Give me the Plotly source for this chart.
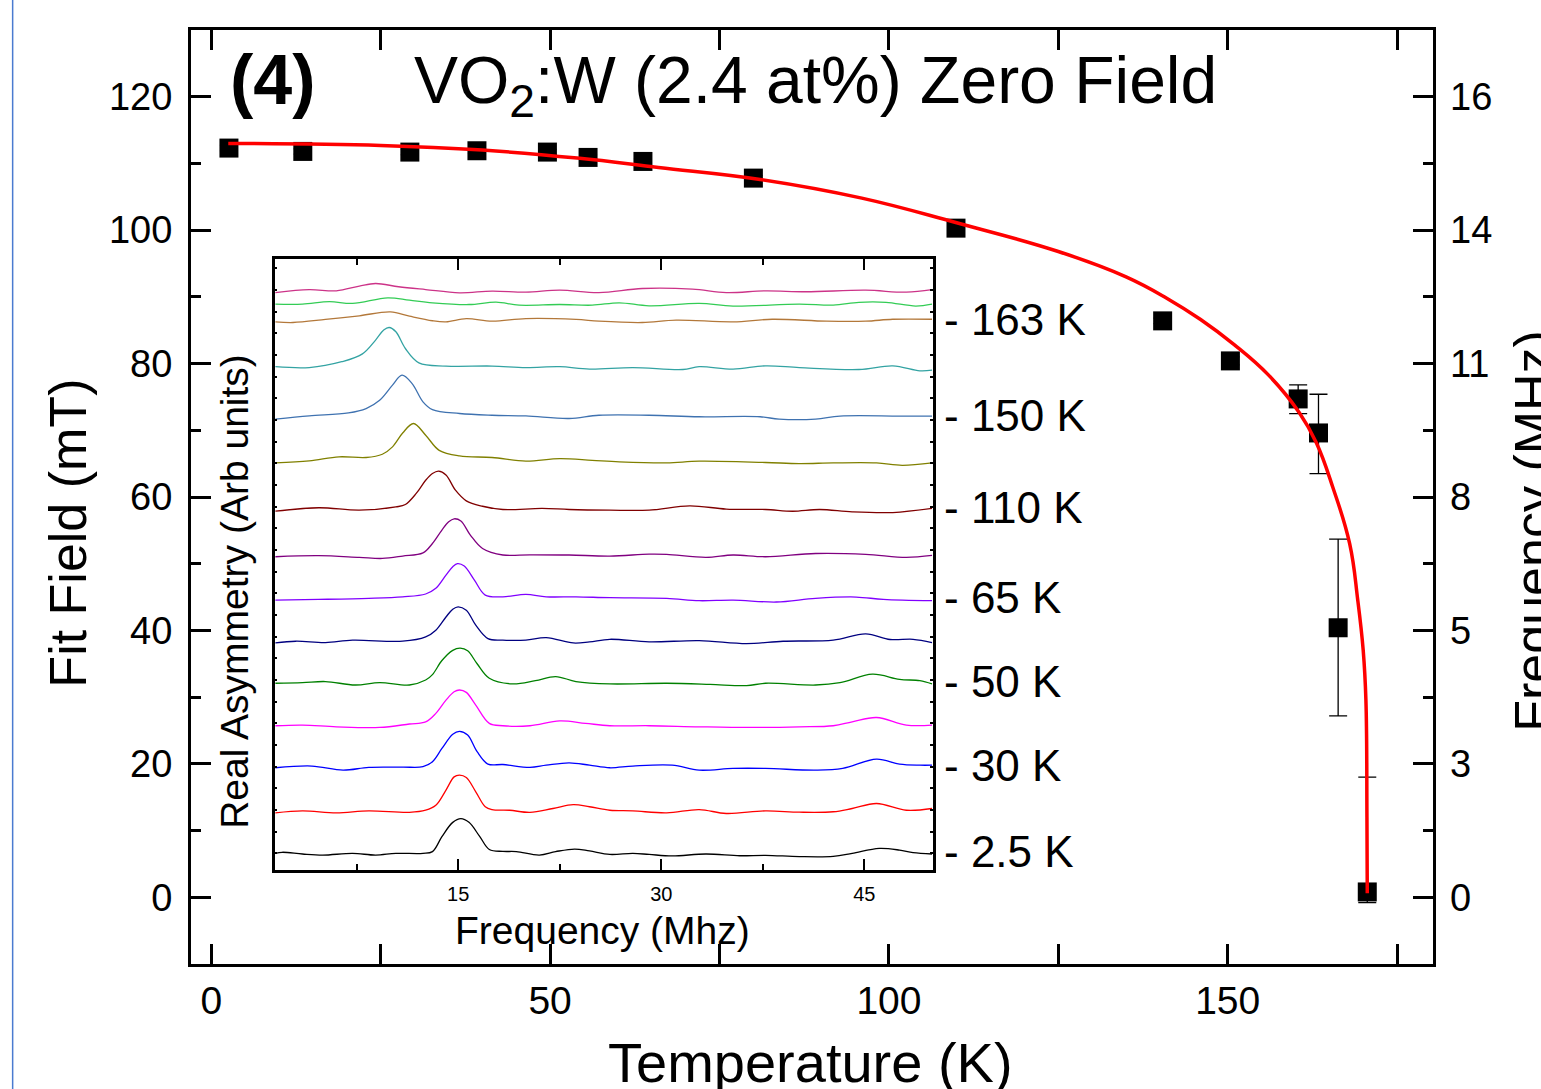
import plotly.graph_objects as go

# ---------------- main data ----------------
temps = [2.6, 13.5, 29.3, 39.2, 49.6, 55.6, 63.7, 80.0, 109.9, 140.4, 150.4, 160.4, 163.4, 166.3, 170.6]
field = [112.3, 111.8, 111.7, 111.9, 111.7, 110.9, 110.3, 107.8, 100.3, 86.4, 80.4, 74.7, 69.6, 40.4, 0.8]
err_plus = [0.4, 0.4, 0.4, 0.4, 0.4, 0.4, 0.4, 0.4, 0.4, 0.4, 0.6, 2.1, 5.8, 13.3, 17.2]
err_minus = [0.4, 0.4, 0.4, 0.4, 0.4, 0.4, 0.4, 0.4, 0.4, 0.4, 0.6, 2.2, 6.1, 13.2, 1.6]

fit_T = [2.5, 25, 40, 54, 66, 81, 96, 110, 125, 135, 141, 146, 151, 156, 160.6, 163.1,
         165.5, 168.0, 169.2, 170.0, 170.4, 170.55, 170.6]
fit_B = [113.0, 112.7, 112.0, 110.8, 109.4, 107.6, 104.8, 101.1, 96.8, 93.0, 89.8, 86.6,
         82.8, 78.3, 72.6, 68.1, 61.5, 53.0, 44.5, 37.0, 29.5, 12.0, 0.6]

left_ticks = [0, 20, 40, 60, 80, 100, 120]
right_tick_text = ["0", "3", "5", "8", "11", "14", "16"]

# ---------------- inset spectra (relative to each baseline) ----------------
black_f = [1.5, 2.0, 3.5, 5.0, 7.2, 8.9, 10.4, 12.4, 13.1, 13.8, 14.6, 15.2, 15.8, 16.6, 17.3, 18.3, 19.3, 21.0,
           22.2, 23.6, 24.7, 26.2, 27.9, 29.1, 30.8, 33.3, 35.8, 37.7, 40.2, 42.7, 44.1, 46.1, 47.6, 48.6, 50.0]
black_v = [0, 0.05, -0.03, -0.08, 0, -0.08, 0, 0, 0.08, 0.77, 1.43, 1.6, 1.43, 0.77, 0.18, 0.09, 0.08, -0.08,
           0.08, 0.2, 0.11, -0.05, 0, -0.05, -0.12, -0.03, -0.11, -0.09, -0.15, -0.14, 0, 0.23, 0.15, 0.03, -0.03]
red_f = [1.5, 3.5, 6.0, 8.4, 11.4, 12.6, 13.35, 14.1, 14.7, 15.1, 15.6, 16.3, 17.0, 17.5, 18.8, 20.3, 22.0, 23.5,
         24.7, 26.2, 27.9, 30.4, 32.8, 34.8, 37.7, 40.2, 42.7, 44.1, 45.9, 48.1, 50.0]
red_v = [0, 0.09, 0, 0.09, 0.02, 0.12, 0.35, 1.05, 1.66, 1.74, 1.63, 0.97, 0.28, 0.15, 0.12, 0.02, 0.2, 0.38,
         0.28, 0.12, 0.09, 0, 0.15, -0.03, 0.09, 0.03, 0.05, 0.2, 0.43, 0.12, 0.2]
blue_f = [1.5, 4.2, 6.5, 8.4, 10.9, 12.4, 13.1, 13.8, 14.6, 15.1, 15.7, 16.4, 17.2, 18.3, 20.3, 21.5, 23.2, 24.7,
          26.2, 27.9, 30.8, 32.8, 35.3, 37.7, 41.4, 43.4, 45.9, 47.6, 49.1, 50.0]
blue_v = [0, 0.08, -0.11, 0.02, 0.03, 0.05, 0.28, 0.89, 1.55, 1.68, 1.51, 0.74, 0.17, 0.15, 0.02, 0.12, 0.23, 0.12,
          0.0, 0.08, 0.12, -0.11, -0.03, -0.03, -0.11, -0.03, 0.4, 0.17, 0.12, 0.12]
magenta_f = [1.5, 3.5, 6.0, 9.2, 11.4, 12.6, 13.35, 14.1, 14.7, 15.1, 15.6, 16.3, 17.3, 18.3, 20.3, 22.5, 24.4,
             26.2, 29.1, 32.8, 36.5, 40.2, 42.7, 44.1, 45.9, 48.1, 50.0]
magenta_v = [0, 0.03, -0.05, -0.08, 0.08, 0.18, 0.57, 1.18, 1.57, 1.65, 1.54, 0.95, 0.11, 0, 0, 0.22, 0.11,
             0, 0, -0.05, -0.08, -0.05, 0, 0.18, 0.38, 0.03, 0.03]
green_f = [1.5, 3.5, 5.2, 7.4, 9.2, 11.4, 12.6, 13.1, 13.8, 14.6, 15.15, 15.7, 16.4, 17.3, 19.0, 20.7, 22.2, 23.7,
           26.2, 30.4, 33.6, 36.3, 37.7, 41.4, 43.2, 45.6, 47.6, 49.1, 50.0]
green_v = [0, 0.03, 0.08, -0.08, 0.03, -0.08, 0.15, 0.4, 1.05, 1.52, 1.62, 1.5, 0.9, 0.23, -0.03, 0.12, 0.31, 0.08,
           -0.03, 0, -0.05, -0.11, 0, -0.08, 0.03, 0.42, 0.18, 0.12, -0.03]
navy_f = [1.5, 3.0, 5.2, 7.2, 10.9, 12.6, 13.35, 14.1, 14.6, 15.0, 15.6, 16.3, 17.2, 18.3, 20.0, 21.5, 23.5, 24.7,
          26.2, 29.1, 32.8, 36.3, 39.0, 42.7, 45.1, 46.9, 48.6, 50.0]
navy_v = [-0.05, 0.03, -0.03, 0.08, 0.03, 0.23, 0.54, 1.15, 1.51, 1.62, 1.46, 0.77, 0.15, 0.08, 0.08, 0.2, -0.05, 0,
          0.12, 0, 0.06, -0.08, 0.03, 0.08, 0.37, 0.11, 0.12, -0.03]
violet_f = [1.5, 4.7, 8.4, 10.9, 12.6, 13.35, 14.1, 14.6, 14.95, 15.45, 16.2, 17.0, 18.3, 20.0, 21.5, 23.7, 26.2,
            30.4, 32.8, 35.3, 38.5, 41.4, 44.4, 46.4, 50.0]
violet_v = [-0.03, 0, 0.05, 0.12, 0.25, 0.51, 1.12, 1.51, 1.65, 1.54, 0.89, 0.2, 0.12, 0.23, 0.12, 0.12, 0.08,
            0.05, -0.06, -0.03, -0.12, 0.05, 0.11, 0, -0.06]
purple_f = [1.5, 4.7, 7.7, 9.4, 10.9, 12.4, 13.1, 13.8, 14.3, 14.7, 15.2, 15.9, 16.8, 18.3, 20.3, 23.2, 26.2, 29.1,
            30.4, 33.3, 35.3, 37.7, 41.4, 45.1, 48.1, 50.0]
purple_v = [-0.03, 0.02, -0.06, -0.11, 0, 0.15, 0.58, 1.2, 1.58, 1.72, 1.62, 0.97, 0.35, 0.05, 0.06, 0.05, 0.0, 0.09,
            0.08, -0.06, 0.05, -0.03, 0.12, 0.08, -0.06, 0.03]
darkred_f = [1.5, 4.7, 7.7, 10.4, 11.1, 11.9, 12.6, 13.1, 13.55, 14.1, 14.8, 15.6, 16.8, 18.3, 21.2, 23.2, 26.2,
             29.1, 32.1, 34.8, 37.7, 39.7, 41.7, 44.1, 47.1, 50.0]
darkred_v = [-0.05, 0.11, 0, 0.15, 0.26, 0.77, 1.38, 1.69, 1.8, 1.62, 0.92, 0.43, 0.18, 0.03, 0.08, 0.03, 0,
             0, 0.2, 0.05, 0.03, -0.05, 0.03, -0.08, -0.11, 0.08]
olive_f = [1.5, 4.0, 6.2, 8.2, 9.4, 10.15, 10.9, 11.7, 12.6, 13.6, 15.1, 17.5, 20.0, 22.5, 24.9, 26.9, 30.4, 32.8,
           37.7, 40.2, 42.7, 45.9, 47.8, 50.0]
olive_v = [0, 0.09, 0.28, 0.25, 0.4, 0.74, 1.38, 1.82, 1.28, 0.58, 0.32, 0.25, 0.08, 0.2, 0.12, 0.05, 0, 0.08,
           0.02, -0.03, 0, 0, -0.11, 0]
steel_f = [1.5, 4.0, 6.9, 8.2, 9.2, 10.15, 10.85, 11.6, 12.4, 13.1, 15.1, 17.5, 20.0, 23.2, 25.4, 29.1, 32.8, 37.3,
           38.7, 41.4, 43.2, 47.6, 50.0]
steel_v = [-0.09, 0.06, 0.2, 0.4, 0.78, 1.48, 1.94, 1.55, 0.71, 0.35, 0.17, 0.09, 0.06, -0.06, 0.09, 0.09, 0.02, 0.02,
           -0.09, -0.09, 0.05, 0.05, 0.05]
teal_f = [1.5, 4.0, 6.4, 7.9, 8.9, 9.5, 9.9, 10.4, 11.1, 12.1, 14.1, 17.5, 20.0, 22.5, 24.7, 27.9, 31.6, 32.8, 35.3,
          37.7, 40.2, 44.6, 47.1, 49.1, 50.0]
teal_v = [0.02, -0.02, 0.25, 0.6, 1.25, 1.71, 1.83, 1.63, 0.86, 0.2, 0.05, 0.05, -0.02, 0.02, -0.09, -0.02, -0.11,
          0.02, -0.09, 0.06, -0.02, -0.11, 0.06, -0.17, -0.14]
brown_f = [1.5, 2.8, 5.2, 7.7, 10.0, 11.4, 13.1, 14.1, 15.6, 17.5, 20.0, 23.7, 25.4, 28.6, 31.1, 35.3, 38.2, 42.2,
           45.1, 47.1, 50.0]
brown_v = [-0.03, -0.06, 0.08, 0.25, 0.43, 0.23, 0.02, -0.03, 0.12, 0, 0.12, 0.08, 0, -0.06, 0.05, -0.03, 0.09, 0,
           0, 0.09, 0.09]
green2_f = [1.5, 3.5, 5.5, 7.2, 9.8, 11.4, 13.1, 15.8, 17.8, 19.5, 22.5, 24.9, 26.9, 29.1, 32.8, 35.3, 40.2, 42.7,
            44.6, 46.6, 48.8, 50.0]
green2_v = [0, 0, 0.11, 0.03, 0.29, 0.18, 0.06, -0.02, 0.09, -0.05, -0.02, -0.05, 0.06, -0.08, 0.03, -0.09, 0,
            -0.05, 0.08, 0.08, -0.09, 0]
pink_f = [1.5, 4.0, 6.0, 7.7, 8.9, 10.6, 12.6, 15.1, 17.5, 20.0, 22.5, 25.4, 28.6, 32.3, 34.8, 37.7, 40.7, 45.1,
          48.1, 50.0]
pink_v = [-0.02, 0.12, 0.06, 0.28, 0.4, 0.25, 0.12, -0.03, 0.05, 0, 0.09, -0.02, 0.17, 0.14, -0.02, 0.06, 0.02,
          0.09, 0, 0.12]

spec_freqs = [black_f, red_f, blue_f, magenta_f, green_f, navy_f, violet_f, purple_f, darkred_f,
              olive_f, steel_f, teal_f, brown_f, green2_f, pink_f]
spec_vals = [black_v, red_v, blue_v, magenta_v, green_v, navy_v, violet_v, purple_v, darkred_v,
             olive_v, steel_v, teal_v, brown_v, green2_v, pink_v]
spec_offsets = [0, 1.87, 3.95, 5.89, 7.85, 9.76, 11.72, 13.72, 15.84, 18.02, 20.13, 22.44, 24.56, 25.35, 25.9]
spec_colors = ["#000000", "#ff0000", "#0000ff", "#ff00ff", "#008000", "#000080", "#8000ff", "#800080",
               "#800000", "#808000", "#3f72b0", "#33a3a3", "#b3783a", "#33cc55", "#cc3388"]

temp_labels = ["- 163 K", "- 150 K", "- 110 K", "- 65 K", "- 50 K", "- 30 K", "- 2.5 K"]
temp_label_trace = [12, 10, 8, 6, 4, 2, 0]

inset_ticks = [15, 30, 45]
inset_minor = [7.5, 22.5, 37.5]

FONT = "Liberation Sans, Arial, sans-serif"

fig = go.Figure()

# data points
fig.add_trace(go.Scatter(
    x=temps, y=field, mode="markers",
    marker=dict(symbol="square", size=19, color="black"),
    error_y=dict(type="data", symmetric=False, array=err_plus, arrayminus=err_minus,
                 color="black", thickness=1.3, width=9),
    xaxis="x", yaxis="y", hoverinfo="skip"))
# fit curve
fig.add_trace(go.Scatter(
    x=fit_T, y=fit_B, mode="lines", line=dict(color="#ff0000", width=3.5, shape="spline", smoothing=1.2),
    xaxis="x", yaxis="y", hoverinfo="skip"))
# invisible trace for right axis
fig.add_trace(go.Scatter(x=temps, y=field, mode="markers", marker=dict(opacity=0),
                         xaxis="x", yaxis="y2", hoverinfo="skip"))

# inset spectra
for f, v, off, c in zip(spec_freqs, spec_vals, spec_offsets, spec_colors):
    fig.add_trace(go.Scatter(
        x=f, y=[off + a for a in v], mode="lines",
        line=dict(color=c, width=1.3, shape="spline", smoothing=1.0),
        xaxis="x2", yaxis="y3", hoverinfo="skip"))

axis_common = dict(showline=True, linecolor="black", showgrid=False, zeroline=False,
                   ticks="inside", tickcolor="black")

fig.update_layout(
    width=1541, height=1089,
    margin=dict(l=191, r=108, t=30, b=125),
    plot_bgcolor="white", paper_bgcolor="white",
    showlegend=False,
    font=dict(family=FONT, color="black"),
    xaxis=dict(**axis_common, domain=[0, 1], anchor="y", range=[-3, 180.3],
               linewidth=3, mirror="allticks", tick0=0, dtick=50, ticklen=20, tickwidth=3,
               tickfont=dict(size=39, family=FONT), ticklabelstandoff=0,
               minor=dict(dtick=25, tick0=0, ticklen=10, tickwidth=3, ticks="inside", tickcolor="black")),
    yaxis=dict(**axis_common, domain=[0, 1], anchor="x", range=[-10, 130],
               linewidth=3, mirror="allticks", tickvals=left_ticks, ticklen=20, tickwidth=3,
               tickfont=dict(size=38, family=FONT), ticklabelstandoff=8,
               minor=dict(dtick=10, tick0=0, ticklen=10, tickwidth=3, ticks="inside", tickcolor="black")),
    yaxis2=dict(showline=False, showgrid=False, zeroline=False, overlaying="y", side="right",
                anchor="x", range=[-10, 130], tickvals=left_ticks, ticktext=right_tick_text,
                ticks="inside", ticklen=20, tickwidth=3, tickcolor="black",
                tickfont=dict(size=38, family=FONT), ticklabelstandoff=16),
    xaxis2=dict(**axis_common, domain=[0.0674, 0.5972], anchor="y3", range=[1.45, 50.05],
                linewidth=2.5, mirror="allticks", tickvals=inset_ticks, ticklen=11, tickwidth=2,
                tickfont=dict(size=20, family=FONT), ticklabelstandoff=4,
                minor=dict(tickvals=inset_minor, ticklen=6, tickwidth=2, ticks="inside", tickcolor="black")),
    yaxis3=dict(**axis_common, domain=[0.1006, 0.7548], anchor="x2", range=[-0.77, 27.43],
                linewidth=2.5, mirror="allticks", tick0=0, dtick=1, ticklen=3, tickwidth=2,
                showticklabels=False),
)

ann = []
ann.append(dict(text="<b>(4)</b>", xref="paper", yref="paper", x=0.0295, y=0.9465,
                xanchor="left", yanchor="middle", showarrow=False, font=dict(size=70, family=FONT)))
ann.append(dict(text="VO<sub>2</sub>:W (2.4 at%) Zero Field", xref="paper", yref="paper",
                x=0.1777, y=0.941, xanchor="left", yanchor="middle", showarrow=False,
                font=dict(size=66, family=FONT)))
ann.append(dict(text="Fit Field (mT)", xref="paper", yref="paper", x=-0.0993, y=0.4615,
                xanchor="center", yanchor="middle", textangle=-90, showarrow=False,
                font=dict(size=52, family=FONT)))
ann.append(dict(text="Frequency (MHz)", xref="paper", yref="paper", x=1.0803, y=0.4636,
                xanchor="center", yanchor="middle", textangle=-90, showarrow=False,
                font=dict(size=52, family=FONT)))
ann.append(dict(text="Temperature (K)", xref="paper", yref="paper", x=0.499, y=-0.105,
                xanchor="center", yanchor="middle", showarrow=False, font=dict(size=56, family=FONT)))
ann.append(dict(text="Real Asymmetry (Arb units)", xref="paper", yref="paper", x=0.0353, y=0.3994,
                xanchor="center", yanchor="middle", textangle=-90, showarrow=False,
                font=dict(size=39, family=FONT)))
ann.append(dict(text="Frequency (Mhz)", xref="paper", yref="paper", x=0.3314, y=0.0364,
                xanchor="center", yanchor="middle", showarrow=False, font=dict(size=39, family=FONT)))
for lab, idx in zip(temp_labels, temp_label_trace):
    ann.append(dict(text=lab, xref="x2 domain", yref="y3", x=1.014, y=spec_offsets[idx] + 0.1,
                    xanchor="left", yanchor="middle", showarrow=False, font=dict(size=44, family=FONT)))
fig.update_layout(annotations=ann)

fig.add_shape(type="line", xref="paper", yref="paper", x0=-0.1436, x1=-0.1436, y0=-0.2, y1=1.1,
              line=dict(color="#4a7bd0", width=1.5))

fig.write_html("out.html", config={"displayModeBar": False},
               post_script="document.body.style.margin='0';document.body.style.overflow='hidden';")
